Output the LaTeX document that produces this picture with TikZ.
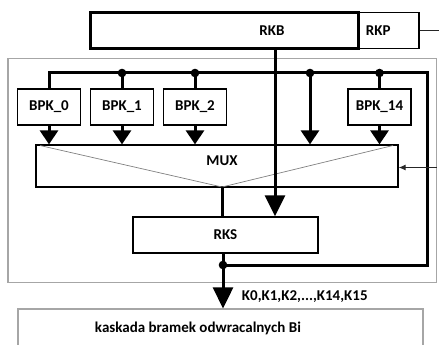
\documentclass[tikz,border=0pt]{standalone}
\usepackage{fontspec}
\setmainfont{Carlito}
\usetikzlibrary{arrows.meta}
\begin{document}
\begin{tikzpicture}[x=1pt,y=-1pt,line width=1.3pt,
    font=\fontsize{15}{18}\bfseries\selectfont,
    blok/.style={draw,inner sep=0pt,minimum height=36pt},
    bpk/.style={blok,minimum width=63pt},
    bus/.style={line width=3pt},
    grot/.style={-{Triangle[length=14pt,width=18pt]}},
    duzygrot/.style={-{Triangle[length=21pt,width=20pt]}},
    ramka/.style={draw=gray!70,line width=1.2pt}]
    \useasboundingbox (0,0) rectangle (439,345);

    \draw[ramka] (8,58.5) rectangle (436.5,282.5);

    \node[blok,minimum width=61pt,minimum height=35.5pt] (rkp) at (388.5,30.5) {};
    \node[blok,line width=3pt,minimum width=268pt,minimum height=35.5pt] (rkb) at (224,30.5) {};
    \node at (272,30.5) {RKB};
    \node[right] at (362,30.5) {RKP};
    \coordinate (rkpout) at (439,30.5);
    \draw[gray!30!black,line width=1pt] (rkp.east) -- (rkpout);

    \node[bpk] (bpk0) at (49,107) {BPK\_0};
    \node[bpk] (bpk1) at (122,107) {BPK\_1};
    \node[bpk] (bpk2) at (195,107) {BPK\_2};
    \node[bpk] (bpk14) at (379.5,107) {BPK\_14};

    \node[blok,minimum width=362pt,minimum height=42pt] (mux) at (217,166) {};
    \node at (222,161) {MUX};
    \coordinate (mv) at (222,187);
    \draw[gray,line width=0.7pt] (40,145.5) -- (mv) -- (393,145.5);

    \node[blok,minimum width=185pt] (rks) at (225.5,235) {RKS};

    % szyna
    \coordinate (rg) at (427,73);
    \coordinate (rd) at (427,265);
    \coordinate (wezel) at (223,265);
    \coordinate (d3) at (310,73);
    \draw[bus] (bpk0.north) |- (rg) -- (rd) -- (wezel);
    \draw[bus] (bpk1.north) -- (bpk1.north |- rg);
    \draw[bus] (bpk2.north) -- (bpk2.north |- rg);
    \draw[bus] (bpk14.north) -- (bpk14.north |- rg);
    \draw[bus,grot] (d3) -- (d3 |- mux.north);
    \fill (bpk1.north |- rg) circle (4.3pt);
    \fill (bpk2.north |- rg) circle (4.3pt);
    \fill (d3) circle (4.3pt);
    \fill (bpk14.north |- rg) circle (4.3pt);
    \fill (wezel) circle (4.3pt);

    \draw[bus,grot] (bpk0.south) -- (bpk0.south |- mux.north);
    \draw[bus,grot] (bpk1.south) -- (bpk1.south |- mux.north);
    \draw[bus,grot] (bpk2.south) -- (bpk2.south |- mux.north);
    \draw[bus,grot] (bpk14.south) -- (bpk14.south |- mux.north);

    \coordinate (rkbdol) at (275,48);
    \draw[bus,duzygrot] (rkbdol) -- (rkbdol |- rks.north);
    \draw[bus] (mv) -- (mv |- rks.north);
    \draw[bus] (rks.south -| wezel) -- (wezel);

    \coordinate (muxwe) at (436.5,167.5);
    \draw[gray!30!black,line width=1pt,-{Latex[length=7pt,width=6pt]}] (muxwe) -- (muxwe -| mux.east);

    \node[draw=gray!70,line width=1.2pt,minimum width=405pt,minimum height=60pt] (kaskada) at (220.5,339) {};
    \node[right] at (91,328) {kaskada bramek odwracalnych Bi};
    \draw[bus,duzygrot] (wezel) -- (wezel |- kaskada.north);
    \node[right] at (238,296.5) {K0,K1,K2,...,K14,K15};
  \end{tikzpicture}
\end{document}
